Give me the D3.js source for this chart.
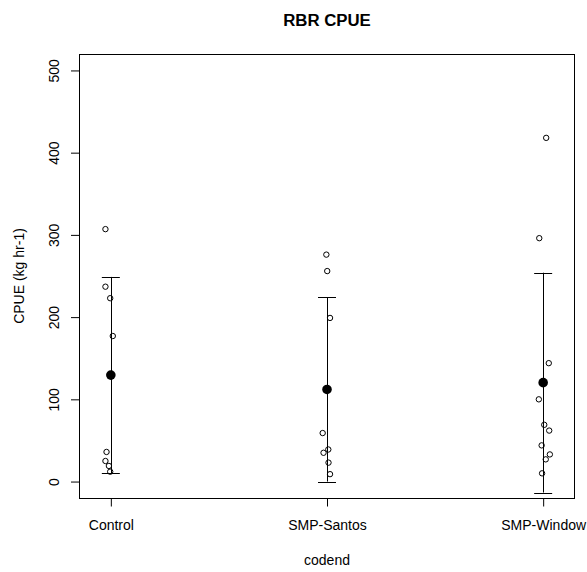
<!DOCTYPE html>
<html>
<head>
<meta charset="utf-8">
<script src="https://cdn.jsdelivr.net/npm/d3@7"></script>
<style>
  body { margin: 0; background: #fff; }
  text { font-family: "Liberation Sans", Arial, sans-serif; fill: #000; }
</style>
</head>
<body>
<div id="chart"></div>
<script>
// categories on the x axis
var categories = ["Control", "SMP-Santos", "SMP-Window"];

// CPUE of each haul
var controlCPUE = [307, 237, 223, 177, 36, 25, 19, 12];
var santosCPUE  = [276, 256, 199, 59, 39, 35, 23, 9];
var windowCPUE  = [418, 296, 144, 100, 69, 62, 44, 33, 27, 10];

// horizontal jitter of each point, in category units
var controlJitter = [-0.025, -0.025, -0.003, 0.009, -0.02, -0.025, -0.009, -0.003];
var santosJitter  = [-0.003, 0.001, 0.014, -0.02, 0.006, -0.016, 0.007, 0.014];
var windowJitter  = [0.014, -0.018, 0.026, -0.02, 0.005, 0.028, -0.007, 0.031, 0.012, -0.005];

var yTicks = [0, 100, 200, 300, 400, 500];

var W = 587, H = 572;
// note: "top" is taken by window.top, so plot edges get their own names
var plotL = 79.5, plotR = 574.5, plotT = 54, plotB = 498;

var groups = [
  {name: categories[0], values: controlCPUE, jitter: controlJitter},
  {name: categories[1], values: santosCPUE, jitter: santosJitter},
  {name: categories[2], values: windowCPUE, jitter: windowJitter}
];
groups.forEach(function (g, i) {
  g.pos = i + 1;
  g.mean = d3.mean(g.values);
  g.sd = d3.deviation(g.values);
});

const svg = d3.select("#chart").append("svg")
  .attr("width", W)
  .attr("height", H);

var x = d3.scaleLinear().domain([0.855, 3.145]).range([plotL, plotR]);
var y = d3.scaleLinear().domain([-20, 520]).range([plotB, plotT]);

// y axis (labels parallel to the axis, like R)
var yAxis = svg.append("g")
  .attr("transform", "translate(" + plotL + ",0)")
  .call(d3.axisLeft(y).tickValues(yTicks).tickSize(8.5).tickFormat(d3.format("d")));
yAxis.select(".domain").remove();
yAxis.selectAll("line").attr("stroke", "#000");
yAxis.selectAll("text")
  .attr("x", 0).attr("y", -21).attr("dy", 0)
  .attr("transform", "rotate(-90)")
  .attr("text-anchor", "middle")
  .style("font-size", "14px")
  .style("font-family", "Liberation Sans, Arial, sans-serif")
  .attr("fill", "#000");

// x axis
var xAxis = svg.append("g")
  .attr("transform", "translate(0," + plotB + ")")
  .call(d3.axisBottom(x).tickValues([1, 2, 3]).tickSize(8.5)
    .tickFormat(function (d) { return categories[d - 1]; }));
xAxis.select(".domain").remove();
xAxis.selectAll("line").attr("stroke", "#000");
xAxis.selectAll("text")
  .attr("y", 32).attr("dy", 0)
  .style("font-size", "14px")
  .style("font-family", "Liberation Sans, Arial, sans-serif")
  .attr("fill", "#000");

// plot box
svg.append("rect")
  .attr("x", plotL).attr("y", plotT + 0.5)
  .attr("width", plotR - plotL).attr("height", plotB - plotT)
  .attr("fill", "none").attr("stroke", "#000");

// raw points
var pts = svg.append("g");
groups.forEach(function (g) {
  pts.selectAll(null).data(g.values).enter().append("circle")
    .attr("cx", function (d, i) { return x(g.pos + g.jitter[i]); })
    .attr("cy", function (d) { return y(d); })
    .attr("r", 2.7)
    .attr("fill", "none")
    .attr("stroke", "#000")
    .attr("stroke-width", 1);
});

// mean +/- sd
var bars = svg.append("g").selectAll("g").data(groups).enter().append("g");
bars.append("line")
  .attr("x1", function (d) { return Math.round(x(d.pos)) + 0.5; })
  .attr("x2", function (d) { return Math.round(x(d.pos)) + 0.5; })
  .attr("y1", function (d) { return y(d.mean + d.sd); })
  .attr("y2", function (d) { return y(d.mean - d.sd); })
  .attr("stroke", "#000");
[1, -1].forEach(function (s) {
  bars.append("line")
    .attr("x1", function (d) { return x(d.pos) - 9; })
    .attr("x2", function (d) { return x(d.pos) + 9; })
    .attr("y1", function (d) { return Math.round(y(d.mean + s * d.sd)) + 0.5; })
    .attr("y2", function (d) { return Math.round(y(d.mean + s * d.sd)) + 0.5; })
    .attr("stroke", "#000");
});
bars.append("circle")
  .attr("cx", function (d) { return x(d.pos); })
  .attr("cy", function (d) { return y(d.mean); })
  .attr("r", 4.8)
  .attr("fill", "#000");

// titles
svg.append("text")
  .attr("x", (plotL + plotR) / 2).attr("y", 26)
  .attr("text-anchor", "middle")
  .style("font-size", "16.8px").style("font-weight", "bold")
  .text("RBR CPUE");
svg.append("text")
  .attr("x", (plotL + plotR) / 2).attr("y", 565)
  .attr("text-anchor", "middle")
  .style("font-size", "14px")
  .text("codend");
svg.append("text")
  .attr("transform", "translate(24," + (plotT + plotB) / 2 + ") rotate(-90)")
  .attr("text-anchor", "middle")
  .style("font-size", "14px")
  .text("CPUE (kg hr-1)");
</script>
</body>
</html>
